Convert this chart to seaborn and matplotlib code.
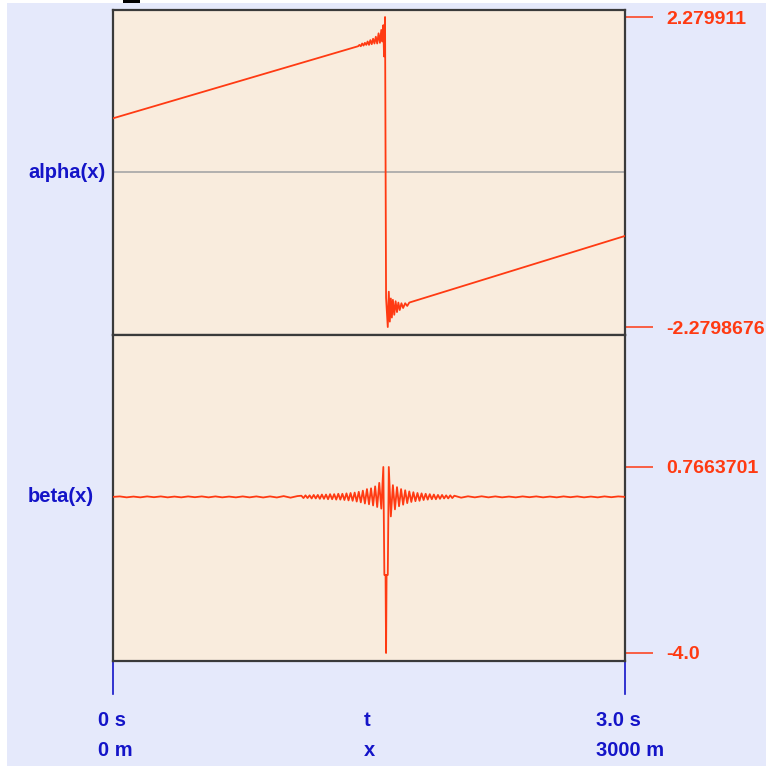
import matplotlib
matplotlib.use("Agg")
import matplotlib.pyplot as plt
from matplotlib.patches import Rectangle
from matplotlib.transforms import blended_transform_factory
import seaborn as sns
import pandas as pd

# ---------------- data ----------------
alpha_x = [0, 1436, 1444, 1452, 1460, 1468, 1476, 1484, 1492, 1500, 1508, 1516,
           1524, 1532, 1540, 1548, 1556, 1564, 1572, 1578, 1584, 1588, 1594,
           1600, 1610, 1616, 1622, 1628, 1634, 1640, 1648, 1656, 1664, 1672,
           1680, 1690, 1700, 1712, 1724, 1736, 3000]
alpha_y = [0.79, 1.85, 1.87, 1.85, 1.89, 1.86, 1.90, 1.87, 1.92, 1.87, 1.94, 1.88,
           1.96, 1.89, 1.99, 1.89, 2.04, 1.90, 2.09, 1.92, 2.16, 1.70, 2.279911,
           -1.85, -2.2798676, -1.76, -2.20, -1.86, -2.14, -1.88, -2.10, -1.90, -2.06, -1.92,
           -2.03, -1.93, -2.00, -1.93, -1.97, -1.92, -0.94]

beta_x = [0, 40, 80, 120, 160, 200, 240, 280, 320, 360, 400, 440, 480, 520,
          560, 600, 640, 680, 720, 760, 800, 840, 880, 920, 960, 1000, 1040, 1080,
          1104, 1116, 1128, 1140, 1152, 1164, 1176, 1188, 1200, 1212, 1224, 1236,
          1248, 1260, 1272, 1284, 1296, 1308, 1320, 1332, 1344, 1356, 1368, 1380,
          1392, 1404, 1416, 1428, 1440, 1452, 1464, 1476, 1488, 1500, 1512, 1524,
          1536, 1548, 1560, 1572, 1584,
          1590, 1597, 1600, 1603, 1610, 1616,
          1628, 1640, 1652, 1664, 1676, 1688, 1700, 1712, 1724, 1736, 1748, 1760,
          1772, 1784, 1796, 1808, 1820, 1832, 1844, 1856, 1868, 1880, 1892, 1904,
          1916, 1928, 1940, 1952, 1964, 1976, 1988, 2000,
          2040, 2080, 2120, 2160, 2200, 2240, 2280, 2320, 2360, 2400, 2440, 2480,
          2520, 2560, 2600, 2640, 2680, 2720, 2760, 2800, 2840, 2880, 2920, 2960, 3000]
beta_y = [0.000, 0.012, -0.012, 0.008, -0.012, 0.012, -0.008, 0.012, -0.012, 0.008, -0.012, 0.012,
          -0.008, 0.012, -0.012, 0.012, -0.012, 0.008, -0.012, 0.012, -0.012, 0.012, -0.015, 0.012,
          -0.015, 0.02, -0.02, 0.02,
          0.03, -0.03, 0.04, -0.03, 0.04, -0.04, 0.05, -0.04, 0.05, -0.05, 0.06, -0.05,
          0.06, -0.06, 0.07, -0.06, 0.07, -0.07, 0.08, -0.07, 0.08, -0.08, 0.09, -0.09,
          0.10, -0.10, 0.11, -0.12, 0.13, -0.14, 0.16, -0.17, 0.20, -0.19, 0.22, -0.22,
          0.27, -0.26, 0.36, -0.30, 0.7663701,
          -2.0, -2.0, -4.0, -2.0, -2.0, 0.7663701,
          -0.50, 0.30, -0.32, 0.25, -0.24, 0.20, -0.20, 0.17, -0.16, 0.14, -0.13, 0.12,
          -0.11, 0.10, -0.10, 0.09, -0.08, 0.08, -0.07, 0.07, -0.06, 0.06, -0.06, 0.05,
          -0.05, 0.05, -0.04, 0.04, -0.04, 0.04, -0.03, 0.03,
          -0.02, 0.015, -0.012, 0.015, -0.012, 0.012, -0.012, 0.008, -0.012, 0.012, -0.008, 0.012,
          -0.012, 0.008, -0.012, 0.012, -0.008, 0.012, -0.012, 0.008, -0.012, 0.012, -0.008, 0.012, 0.000]

alpha_ticks = [2.279911, -2.2798676]
alpha_tick_labels = ["2.279911", "-2.2798676"]
beta_ticks = [0.7663701, -4.0]
beta_tick_labels = ["0.7663701", "-4.0"]
row_labels = ["alpha(x)", "beta(x)"]
t_labels = ["0 s", "t", "3.0 s"]
x_labels = ["0 m", "x", "3000 m"]

# ---------------- style ----------------
W, H = 766, 767
LAV = "#E5E9FB"
BEIGE = "#F9ECDD"
RED = "#FF3A12"
BLUE = "#1414C8"
FRAME = "#3A3A3A"
FONT = ["Liberation Sans", "DejaVu Sans"]
plt.rcParams["font.family"] = FONT

fig = plt.figure(figsize=(W / 100, H / 100), dpi=100, facecolor="white")
fig.add_artist(Rectangle((7 / W, 1 / H), 1, (H - 4) / H, transform=fig.transFigure,
                         facecolor=LAV, edgecolor="none", zorder=-10))
fig.add_artist(Rectangle((123 / W, (H - 3) / H), 17 / W, 3 / H, transform=fig.transFigure,
                         facecolor="black", edgecolor="none", zorder=-5))

def px_axes(x0, y0, x1, y1):
    return fig.add_axes([x0 / W, (H - y1) / H, (x1 - x0) / W, (y1 - y0) / H])

ax1 = px_axes(113, 10, 625, 335)
ax2 = px_axes(113, 335, 625, 661)

df_a = pd.DataFrame({"x": alpha_x, "y": alpha_y})
df_b = pd.DataFrame({"x": beta_x, "y": beta_y})

for ax in (ax1, ax2):
    ax.set_facecolor(BEIGE)
    for s in ax.spines.values():
        s.set_color(FRAME)
        s.set_linewidth(1.6)
    ax.set_xlim(0, 3000)
    ax.set_xticks([])

ax1.axhline(0, color="#A6A6A6", lw=1.2, zorder=1)
sns.lineplot(data=df_a, x="x", y="y", ax=ax1, color=RED, lw=1.3,
             estimator=None, sort=False, zorder=3)
sns.lineplot(data=df_b, x="x", y="y", ax=ax2, color=RED, lw=1.3,
             estimator=None, sort=False, zorder=3)

ax1.set_ylim(-2.397, 2.383)
ax2.set_ylim(-4.205, 4.148)

for ax, ticks, labels, name in ((ax1, alpha_ticks, alpha_tick_labels, row_labels[0]),
                                (ax2, beta_ticks, beta_tick_labels, row_labels[1])):
    ax.set_xlabel("")
    ax.set_ylabel("")
    ax.yaxis.tick_right()
    ax.set_yticks(ticks)
    ax.set_yticklabels(labels)
    ax.tick_params(axis="y", direction="out", length=20, width=1.1, color=RED,
                   pad=9.5, labelcolor=RED, labelsize=14)
    for lab in ax.get_yticklabels():
        lab.set_fontweight("bold")
        lab.set_family(FONT)
    tr = blended_transform_factory(fig.transFigure, ax.transData)
    ax.text(28 / W, 0, name, transform=tr, ha="left", va="center",
            color=BLUE, fontsize=14.5, fontweight="bold", family=FONT)

# blue ticks under the bottom panel
for xa in (0, 1):
    ax2.plot([xa, xa], [0, -33 / 326], transform=ax2.transAxes, color=BLUE,
             lw=1.2, clip_on=False)

for xpix, tl, xl in zip((98, 364, 596), t_labels, x_labels):
    fig.text(xpix / W, (H - 720) / H, tl, ha="left", va="center", color=BLUE,
             fontsize=14.5, fontweight="bold", family=FONT)
    fig.text(xpix / W, (H - 750) / H, xl, ha="left", va="center", color=BLUE,
             fontsize=14.5, fontweight="bold", family=FONT)

fig.savefig("out.png", dpi=100, facecolor="white")
